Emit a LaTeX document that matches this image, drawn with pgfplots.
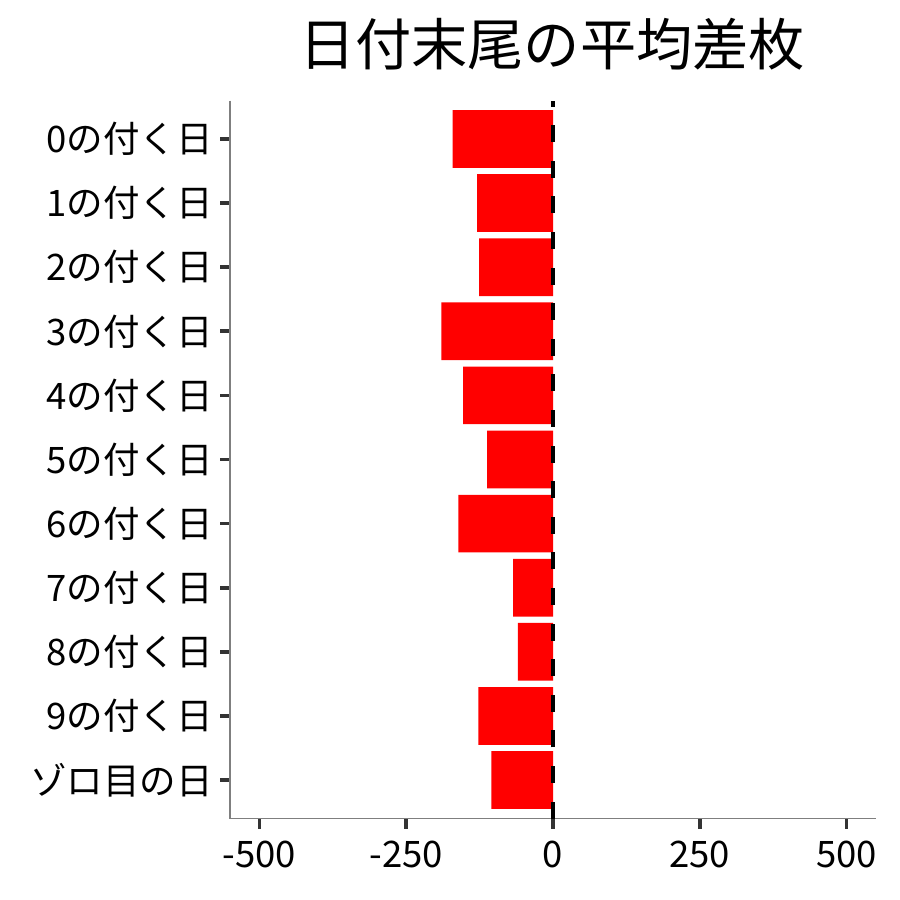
\documentclass[border=0pt]{standalone}
\usepackage{fontspec}
\setmainfont{Noto Sans CJK JP}
\usepackage{pgfplots}
\pgfplotsset{compat=1.18}

\definecolor{spine}{HTML}{7F7F7F}
\definecolor{tickc}{HTML}{333333}

\begin{document}
\begin{tikzpicture}
\useasboundingbox (0,0) rectangle (450pt,450pt);
\begin{axis}[
    at={(115pt,40.75pt)}, anchor=south west,
    scale only axis,
    width=323pt, height=359pt,
    xmin=-550, xmax=550,
    ymin=-0.6, ymax=10.6,
    y dir=reverse,
    xbar, bar width=0.9,
    axis x line*=bottom, axis y line*=left,
    axis line style={-, draw=spine, line width=0.8pt},
    tick pos=left,
    tick align=outside,
    major tick length=5pt,
    tick style={draw=tickc, line width=1.8pt},
    xtick={-500,-250,0,250,500},
    xticklabels={-500,-250,0,250,500},
    ytick={0,1,2,3,4,5,6,7,8,9,10},
    yticklabels={0の付く日,1の付く日,2の付く日,3の付く日,4の付く日,5の付く日,6の付く日,7の付く日,8の付く日,9の付く日,ゾロ目の日},
    every tick label/.append style={font=\fontsize{18.25}{20}\selectfont, text=black},
    xticklabel style={yshift=-2.5pt},
    clip=false,
]
\addplot[fill={rgb,255:red,255;green,0;blue,0}, draw=none] coordinates {
    (-171,0) (-129,1) (-126,2) (-190,3) (-153,4) (-112,5)
    (-161,6) (-68,7) (-60,8) (-127,9) (-105,10)
};
\draw[black, line width=2pt, dash pattern=on 8.5pt off 9.3pt]
    (axis cs:0,10.6) -- (axis cs:0,-0.6);
\end{axis}
\node[anchor=base, font=\fontsize{28.1}{30}\selectfont] at (276pt,417pt) {日付末尾の平均差枚};
\end{tikzpicture}
\end{document}
